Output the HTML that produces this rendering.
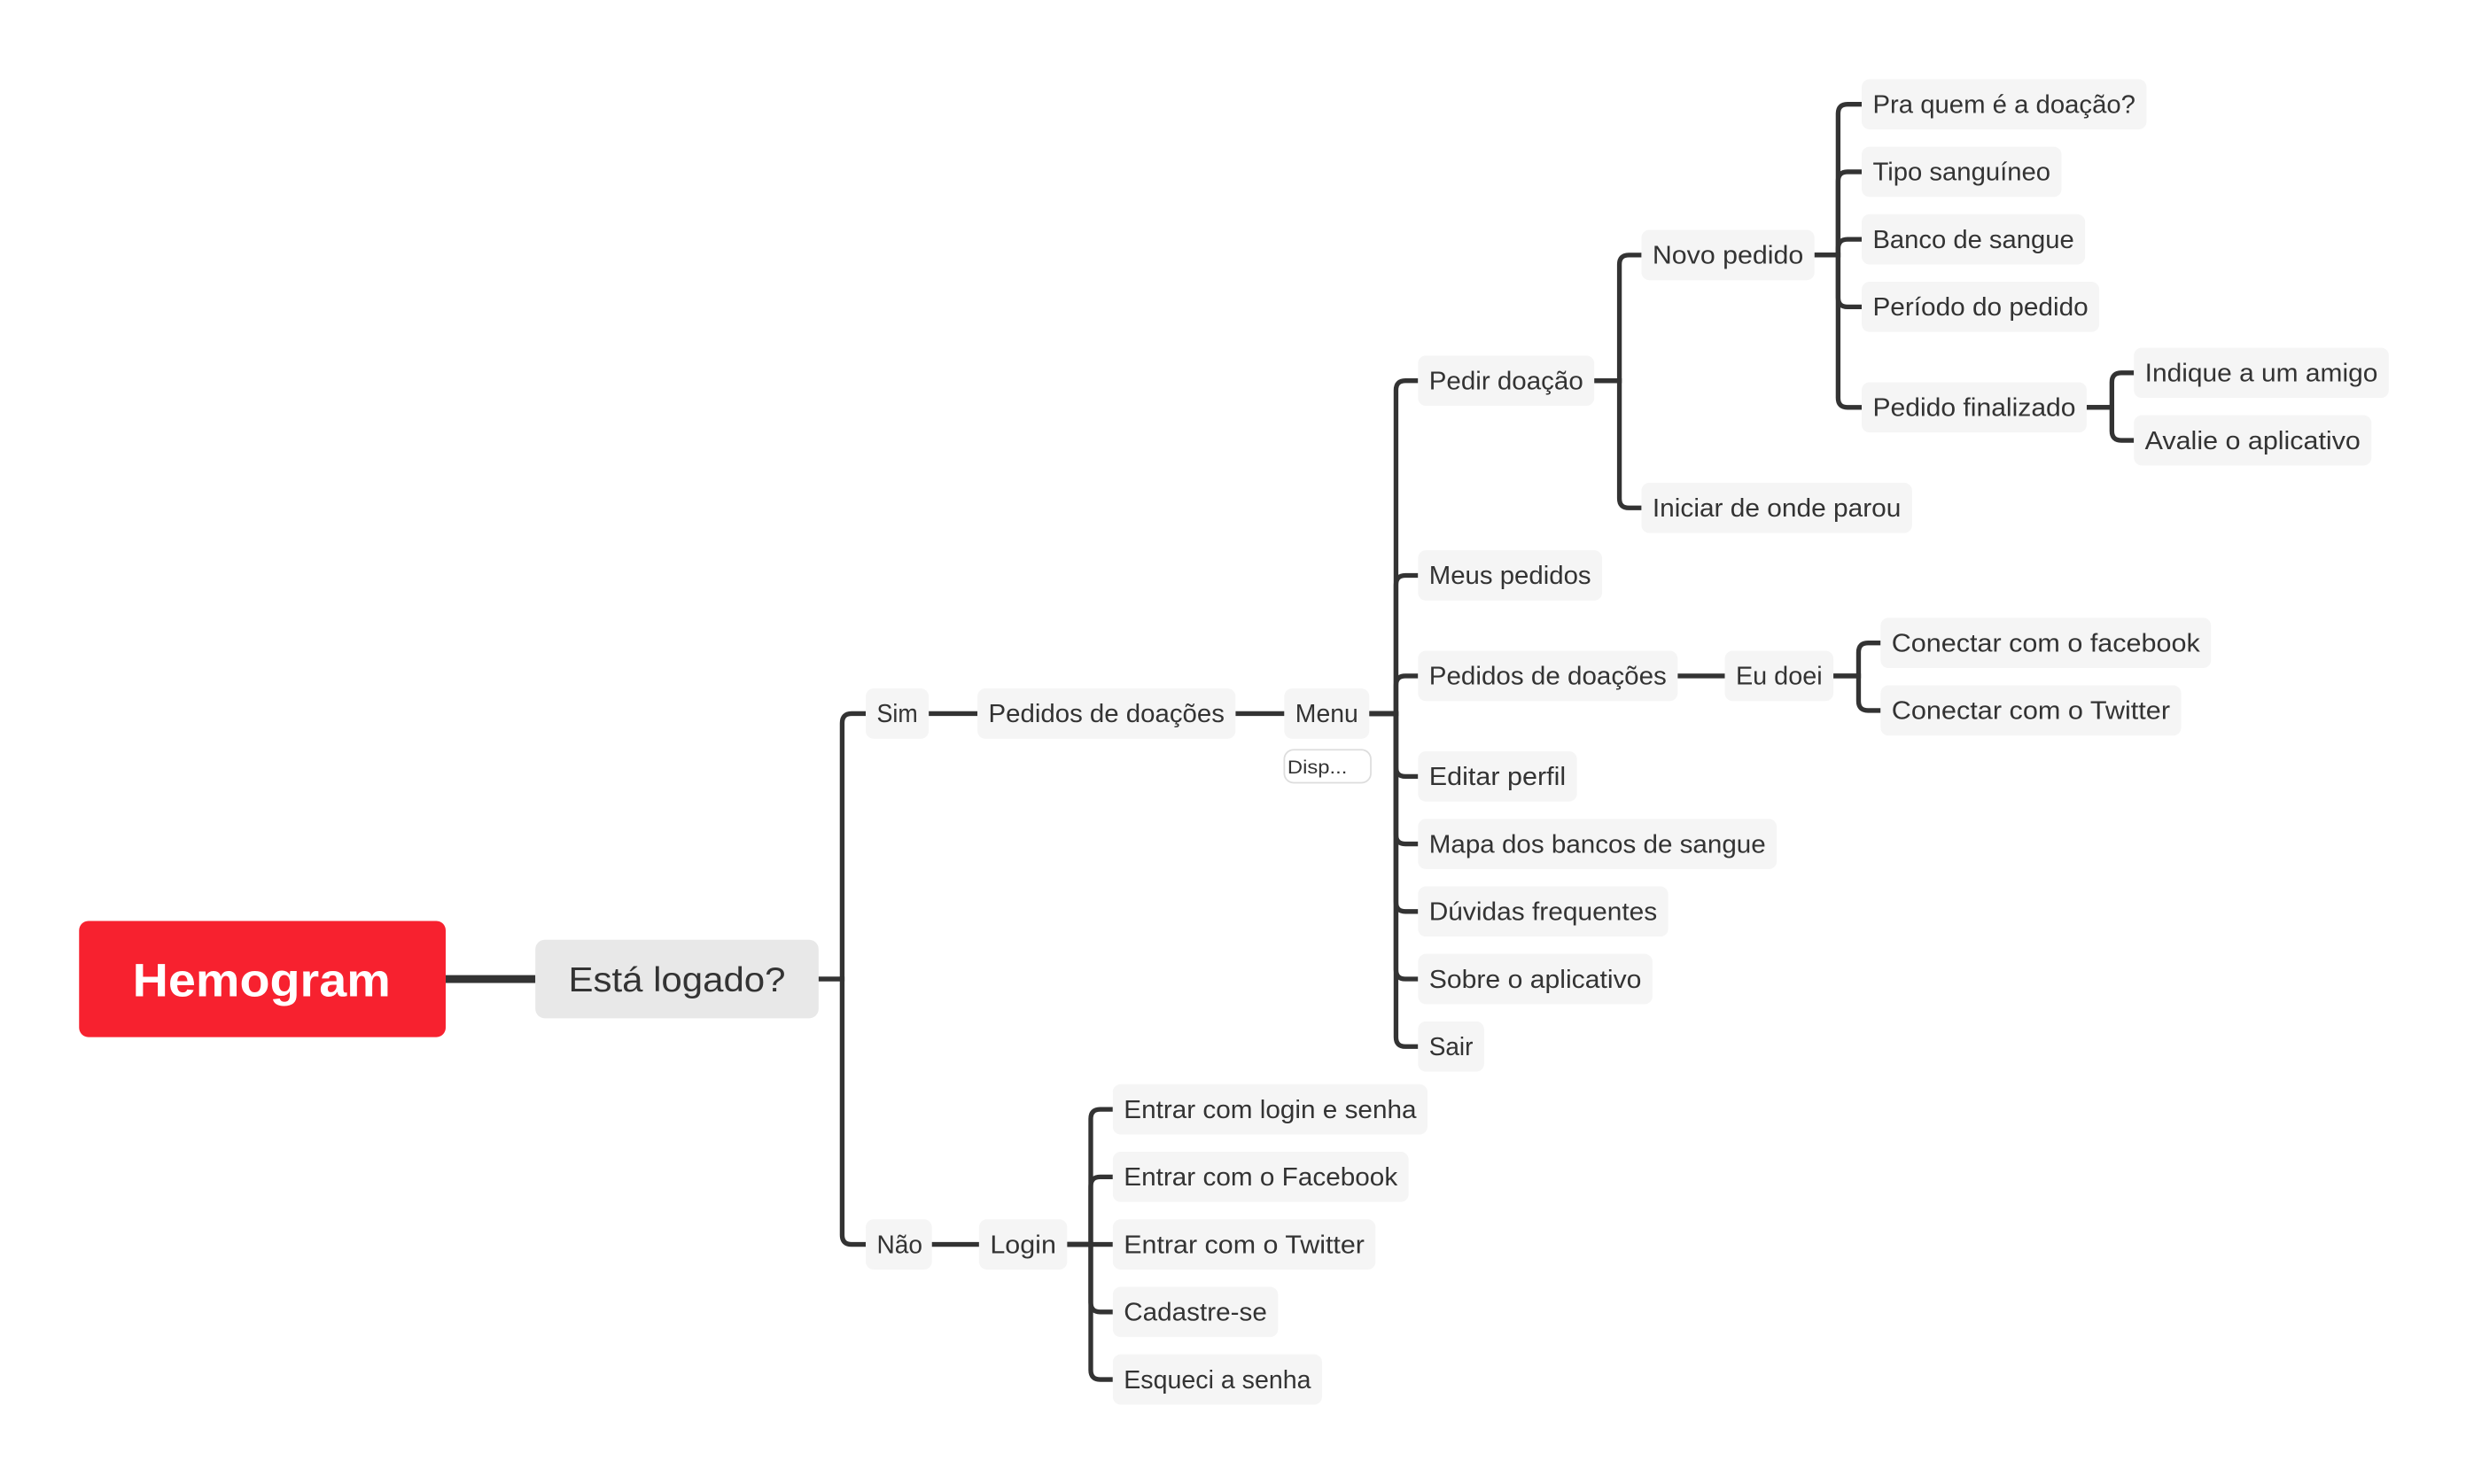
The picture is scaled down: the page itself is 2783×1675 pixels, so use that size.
<!DOCTYPE html>
<html><head><meta charset="utf-8"><style>
html,body{margin:0;padding:0;background:#fff;}
svg{display:block;}
text{font-family:"Liberation Sans",sans-serif;fill:#333;}
.n rect{fill:#f5f5f5;}
.n text{font-size:16px;}
</style></head><body>
<svg width="2783" height="1675" viewBox="0 0 1560 939" xmlns="http://www.w3.org/2000/svg">
<g transform="translate(0.2,0.4) scale(0.9954,0.9937)">
<g fill="none" stroke="#333" stroke-width="3" stroke-linecap="butt">
<path d="M283,623 H340" stroke-width="5"/>
<path d="M520,623 H535 V460 Q535,454 541,454 H550"/>
<path d="M520,623 H535 V786 Q535,792 541,792 H550"/>
<path d="M590,454 H621"/><path d="M785,454 H816"/>
<path d="M870,454 H887 V248 Q887,242 893,242 H901"/>
<path d="M870,454 H887 V372 Q887,366 893,366 H901"/>
<path d="M870,454 H887 V436 Q887,430 893,430 H901"/>
<path d="M870,454 H887 V488 Q887,494 893,494 H901"/>
<path d="M870,454 H887 V531 Q887,537 893,537 H901"/>
<path d="M870,454 H887 V574 Q887,580 893,580 H901"/>
<path d="M870,454 H887 V617 Q887,623 893,623 H901"/>
<path d="M870,454 H887 V660 Q887,666 893,666 H901"/>
<path d="M1013,242 H1029 V168 Q1029,162 1035,162 H1043"/>
<path d="M1013,242 H1029 V317 Q1029,323 1035,323 H1043"/>
<path d="M1153,162 H1168 V72 Q1168,66 1174,66 H1183"/>
<path d="M1153,162 H1168 V115 Q1168,109 1174,109 H1183"/>
<path d="M1153,162 H1168 V158 Q1168,152 1174,152 H1183"/>
<path d="M1153,162 H1168 V189 Q1168,195 1174,195 H1183"/>
<path d="M1153,162 H1168 V253 Q1168,259 1174,259 H1183"/>
<path d="M1326,259 H1342 V243 Q1342,237 1348,237 H1356"/>
<path d="M1326,259 H1342 V274 Q1342,280 1348,280 H1356"/>
<path d="M1066,430 H1096"/>
<path d="M1165,430 H1181 V415 Q1181,409 1187,409 H1195"/>
<path d="M1165,430 H1181 V446 Q1181,452 1187,452 H1195"/>
<path d="M592,792 H622"/>
<path d="M678,792 H693 V712 Q693,706 699,706 H707"/>
<path d="M678,792 H693 V755 Q693,749 699,749 H707"/>
<path d="M678,792 H707"/>
<path d="M678,792 H693 V829 Q693,835 699,835 H707"/>
<path d="M678,792 H693 V872 Q693,878 699,878 H707"/>
</g>
<rect x="50" y="586" width="233" height="74" rx="6" fill="#f7212f"/>
<text x="166" y="634" text-anchor="middle" font-size="30" font-weight="bold" style="fill:#fff" textLength="164" lengthAdjust="spacingAndGlyphs">Hemogram</text>
<rect x="340" y="598" width="180" height="50" rx="6" fill="#e8e8e8"/>
<text x="430" y="631" text-anchor="middle" font-size="22" textLength="138" lengthAdjust="spacingAndGlyphs">Está logado?</text>
<rect x="816" y="477" width="55" height="21" rx="6" fill="#fff" stroke="#ddd" stroke-width="1"/>
<text x="818" y="492" font-size="12" textLength="38" lengthAdjust="spacingAndGlyphs">Disp...</text>
<g class="n">
<rect x="550" y="438" width="40" height="32" rx="5"/><text x="557" y="459.5" textLength="26" lengthAdjust="spacingAndGlyphs">Sim</text>
<rect x="621" y="438" width="164" height="32" rx="5"/><text x="628" y="459.5" textLength="150" lengthAdjust="spacingAndGlyphs">Pedidos de doações</text>
<rect x="816" y="438" width="54" height="32" rx="5"/><text x="823" y="459.5" textLength="40" lengthAdjust="spacingAndGlyphs">Menu</text>
<rect x="901" y="226" width="112" height="32" rx="5"/><text x="908" y="247.5" textLength="98" lengthAdjust="spacingAndGlyphs">Pedir doação</text>
<rect x="901" y="350" width="117" height="32" rx="5"/><text x="908" y="371.5" textLength="103" lengthAdjust="spacingAndGlyphs">Meus pedidos</text>
<rect x="901" y="414" width="165" height="32" rx="5"/><text x="908" y="435.5" textLength="151" lengthAdjust="spacingAndGlyphs">Pedidos de doações</text>
<rect x="901" y="478" width="101" height="32" rx="5"/><text x="908" y="499.5" textLength="87" lengthAdjust="spacingAndGlyphs">Editar perfil</text>
<rect x="901" y="521" width="228" height="32" rx="5"/><text x="908" y="542.5" textLength="214" lengthAdjust="spacingAndGlyphs">Mapa dos bancos de sangue</text>
<rect x="901" y="564" width="159" height="32" rx="5"/><text x="908" y="585.5" textLength="145" lengthAdjust="spacingAndGlyphs">Dúvidas frequentes</text>
<rect x="901" y="607" width="149" height="32" rx="5"/><text x="908" y="628.5" textLength="135" lengthAdjust="spacingAndGlyphs">Sobre o aplicativo</text>
<rect x="901" y="650" width="42" height="32" rx="5"/><text x="908" y="671.5" textLength="28" lengthAdjust="spacingAndGlyphs">Sair</text>
<rect x="1043" y="146" width="110" height="32" rx="5"/><text x="1050" y="167.5" textLength="96" lengthAdjust="spacingAndGlyphs">Novo pedido</text>
<rect x="1043" y="307" width="172" height="32" rx="5"/><text x="1050" y="328.5" textLength="158" lengthAdjust="spacingAndGlyphs">Iniciar de onde parou</text>
<rect x="1183" y="50" width="181" height="32" rx="5"/><text x="1190" y="71.5" textLength="167" lengthAdjust="spacingAndGlyphs">Pra quem é a doação?</text>
<rect x="1183" y="93" width="127" height="32" rx="5"/><text x="1190" y="114.5" textLength="113" lengthAdjust="spacingAndGlyphs">Tipo sanguíneo</text>
<rect x="1183" y="136" width="142" height="32" rx="5"/><text x="1190" y="157.5" textLength="128" lengthAdjust="spacingAndGlyphs">Banco de sangue</text>
<rect x="1183" y="179" width="151" height="32" rx="5"/><text x="1190" y="200.5" textLength="137" lengthAdjust="spacingAndGlyphs">Período do pedido</text>
<rect x="1183" y="243" width="143" height="32" rx="5"/><text x="1190" y="264.5" textLength="129" lengthAdjust="spacingAndGlyphs">Pedido finalizado</text>
<rect x="1356" y="221" width="162" height="32" rx="5"/><text x="1363" y="242.5" textLength="148" lengthAdjust="spacingAndGlyphs">Indique a um amigo</text>
<rect x="1356" y="264" width="151" height="32" rx="5"/><text x="1363" y="285.5" textLength="137" lengthAdjust="spacingAndGlyphs">Avalie o aplicativo</text>
<rect x="1096" y="414" width="69" height="32" rx="5"/><text x="1103" y="435.5" textLength="55" lengthAdjust="spacingAndGlyphs">Eu doei</text>
<rect x="1195" y="393" width="210" height="32" rx="5"/><text x="1202" y="414.5" textLength="196" lengthAdjust="spacingAndGlyphs">Conectar com o facebook</text>
<rect x="1195" y="436" width="191" height="32" rx="5"/><text x="1202" y="457.5" textLength="177" lengthAdjust="spacingAndGlyphs">Conectar com o Twitter</text>
<rect x="550" y="776" width="42" height="32" rx="5"/><text x="557" y="797.5" textLength="29" lengthAdjust="spacingAndGlyphs">Não</text>
<rect x="622" y="776" width="56" height="32" rx="5"/><text x="629" y="797.5" textLength="42" lengthAdjust="spacingAndGlyphs">Login</text>
<rect x="707" y="690" width="200" height="32" rx="5"/><text x="714" y="711.5" textLength="186" lengthAdjust="spacingAndGlyphs">Entrar com login e senha</text>
<rect x="707" y="733" width="188" height="32" rx="5"/><text x="714" y="754.5" textLength="174" lengthAdjust="spacingAndGlyphs">Entrar com o Facebook</text>
<rect x="707" y="776" width="167" height="32" rx="5"/><text x="714" y="797.5" textLength="153" lengthAdjust="spacingAndGlyphs">Entrar com o Twitter</text>
<rect x="707" y="819" width="105" height="32" rx="5"/><text x="714" y="840.5" textLength="91" lengthAdjust="spacingAndGlyphs">Cadastre-se</text>
<rect x="707" y="862" width="133" height="32" rx="5"/><text x="714" y="883.5" textLength="119" lengthAdjust="spacingAndGlyphs">Esqueci a senha</text>
</g>
</g>
</svg>
</body></html>
